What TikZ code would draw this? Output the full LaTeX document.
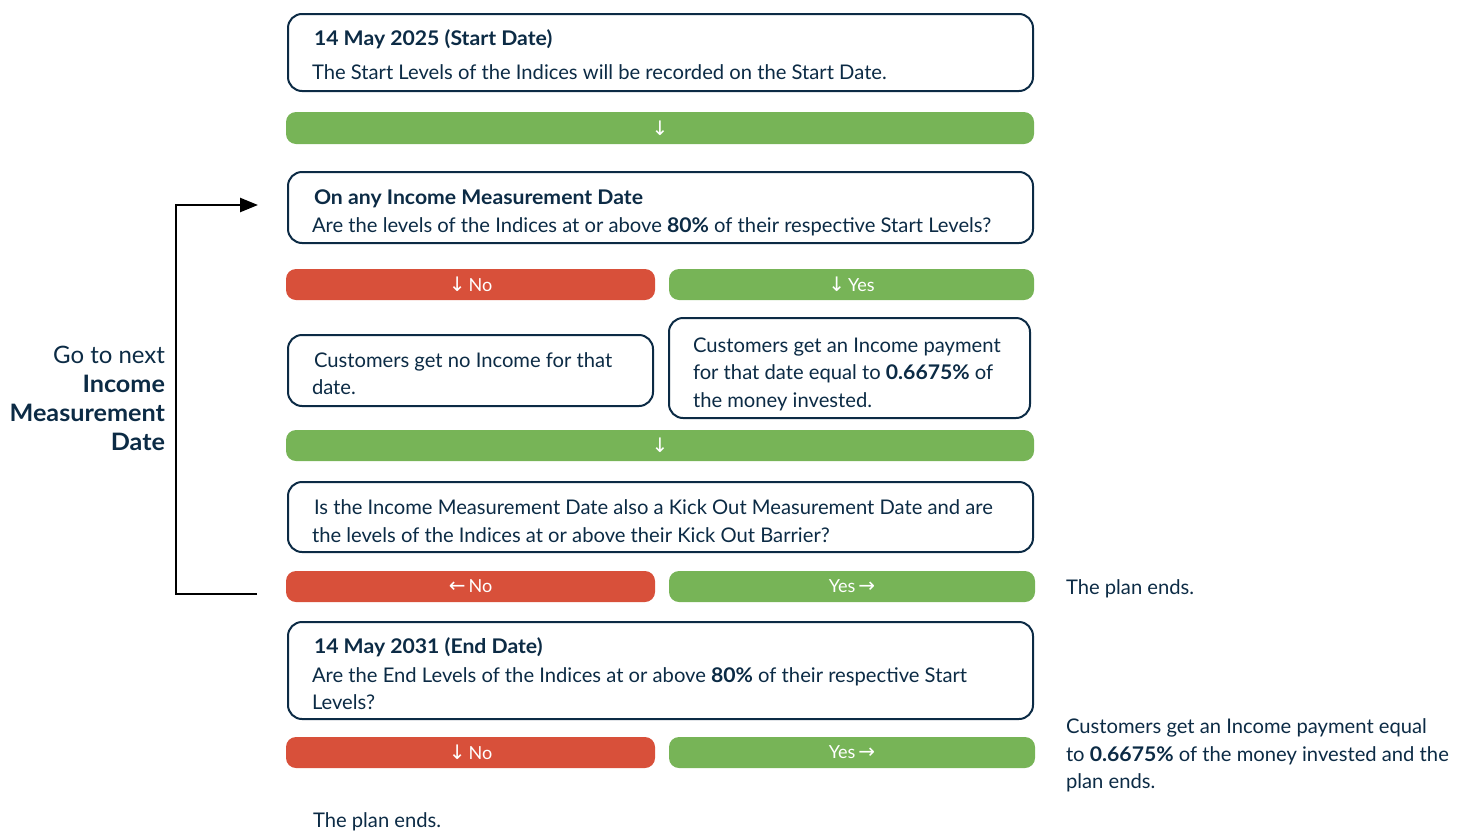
\documentclass[tikz,border=0pt]{standalone}
\usepackage{fontspec}
\setmainfont{Lato}[BoldFeatures={FakeStretch=1.05}]
\newfontfamily\arrowfont{DejaVu Sans}
\usetikzlibrary{arrows.meta}
\definecolor{navy}{HTML}{0C2B45}
\definecolor{myred}{HTML}{D8503A}
\definecolor{mygreen}{HTML}{77B457}
\newcommand{\ar}[1]{{\arrowfont\fontsize{20}{20}\selectfont #1}}
\begin{document}
\begin{tikzpicture}[x=1pt,y=-1pt,
  box/.style={draw=navy, line width=2pt, rounded corners=14pt, fill=white, inner sep=0pt, outer sep=0pt},
  bar/.style={rounded corners=10pt, inner sep=0pt, outer sep=0pt, text=white, font=\fontsize{18}{20}\selectfont},
  gbar/.style={bar, fill=mygreen},
  rbar/.style={bar, fill=myred},
  txt/.style={anchor=base west, inner sep=0pt, outer sep=0pt, text=navy, font=\fontsize{20.2}{24}\selectfont},
  ttl/.style={txt, font=\fontsize{20.2}{24}\selectfont\bfseries},
  side/.style={anchor=base east, inner sep=0pt, outer sep=0pt, text=navy, font=\fontsize{24}{28}\selectfont},
  loop/.style={line width=2.5pt, black}
]
\useasboundingbox (0,0) rectangle (1464,833);

% box 1
\node[box, minimum width=745pt, minimum height=77pt] (b1) at (660.5,52.5) {};
\node[ttl] (t1a) at (314,45) {14 May 2025 (Start Date)};
\node[txt] (t1b) at (312,79) {The Start Levels of the Indices will be recorded on the Start Date.};

\node[gbar, minimum width=748pt, minimum height=32pt] (g1) at (660,128) {\ar{↓}};

% box 2
\node[box, minimum width=745pt, minimum height=71pt] (b2) at (660.5,207.5) {};
\node[ttl] (t2a) at (314,204) {On any Income Measurement Date};
\node[txt] (t2b) at (312,232) {Are the levels of the Indices at or above \textbf{80\%} of their respective Start Levels?};

\node[rbar, minimum width=369pt, minimum height=31pt] (r1) at (470.5,284.5) {\ar{↓}\,No};
\node[gbar, minimum width=365pt, minimum height=31pt] (y1) at (851.5,284.5) {\ar{↓}\,Yes};

% box 3
\node[box, minimum width=365pt, minimum height=71pt] (b3) at (470.5,370.5) {};
\node[txt] (t3a) at (314,367) {Customers get no Income for that};
\node[txt] (t3b) at (312,394) {date.};

% box 4
\node[box, minimum width=361pt, minimum height=100pt] (b4) at (849.5,368) {};
\node[txt] (t4a) at (693,352) {Customers get an Income payment};
\node[txt] (t4b) at (693,379.5) {for that date equal to \textbf{0.6675\%} of};
\node[txt] (t4c) at (693,407) {the money invested.};

\node[gbar, minimum width=748pt, minimum height=31pt] (g2) at (660,445.5) {\ar{↓}};

% box 5
\node[box, minimum width=745pt, minimum height=70pt] (b5) at (660.5,517) {};
\node[txt] (t5a) at (314,514) {Is the Income Measurement Date also a Kick Out Measurement Date and are};
\node[txt] (t5b) at (312,542) {the levels of the Indices at or above their Kick Out Barrier?};

\node[rbar, minimum width=369pt, minimum height=31pt] (r2) at (470.5,586.5) {\ar{←}\,No};
\node[gbar, minimum width=366pt, minimum height=31pt] (y2) at (852,586.5) {Yes\,\ar{→}};
\node[txt] (e1) at (1066,594) {The plan ends.};

% box 6
\node[box, minimum width=745pt, minimum height=97pt] (b6) at (660.5,670.5) {};
\node[ttl] (t6a) at (314,653) {14 May 2031 (End Date)};
\node[txt] (t6b) at (312,682) {Are the End Levels of the Indices at or above \textbf{80\%} of their respective Start};
\node[txt] (t6c) at (312,709) {Levels?};

\node[rbar, minimum width=369pt, minimum height=31pt] (r3) at (470.5,752.5) {\ar{↓}\,No};
\node[gbar, minimum width=366pt, minimum height=31pt] (y3) at (852,752.5) {Yes\,\ar{→}};

\node[txt] (e2a) at (1066,733) {Customers get an Income payment equal};
\node[txt] (e2b) at (1066,761) {to \textbf{0.6675\%} of the money invested and the};
\node[txt] (e2c) at (1066,788) {plan ends.};
\node[txt] (e3) at (313,827) {The plan ends.};

% side label
\node[side] (s1) at (165,363) {Go to next};
\node[side] (s2) at (165,392) {\bfseries Income};
\node[side] (s3) at (165,421) {\bfseries Measurement};
\node[side] (s4) at (165,450) {\bfseries Date};

% loop connector
\coordinate (ls) at (257,594);
\coordinate (le) at (258,205);
\draw[loop, -{Triangle[length=18pt,width=14pt]}] (ls) -- (176,594) |- (le);
\end{tikzpicture}
\end{document}
